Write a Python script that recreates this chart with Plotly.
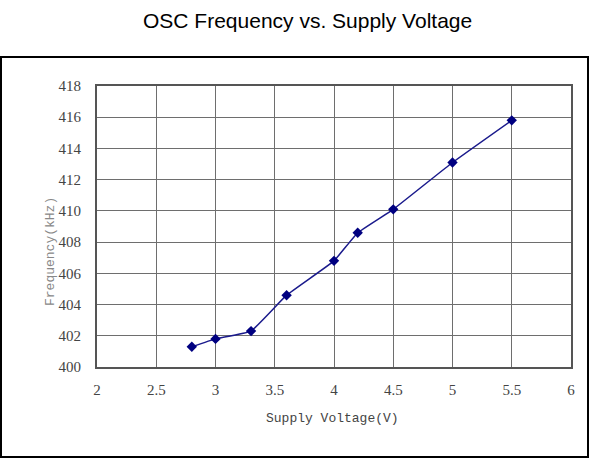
import plotly.graph_objects as go

voltage = [2.8, 3.0, 3.3, 3.6, 4.0, 4.2, 4.5, 5.0, 5.5]
frequency = [401.3, 401.8, 402.3, 404.6, 406.8, 408.6, 410.1, 413.1, 415.8]
x_ticks = [2, 2.5, 3, 3.5, 4, 4.5, 5, 5.5, 6]
x_tick_text = ["2", "2.5", "3", "3.5", "4", "4.5", "5", "5.5", "6"]
y_ticks = [400, 402, 404, 406, 408, 410, 412, 414, 416, 418]

W, H = 589, 460
L, R, T, B = 97, 18, 86, 93
pw, ph = W - L - R, H - T - B

def px(xpix):
    return (xpix - L) / pw

def py(ypix):
    return (H - B - ypix) / ph

fig = go.Figure()
fig.add_trace(go.Scatter(
    x=voltage, y=frequency, mode="lines+markers",
    line=dict(color="#1a1a8c", width=1.5, shape="spline", smoothing=0.3),
    marker=dict(symbol="diamond", size=8, color="#000080"),
    showlegend=False, hoverinfo="x+y",
))

tick_font = dict(family="Liberation Serif, DejaVu Serif, serif", size=15, color="#444444")

fig.update_layout(
    width=W, height=H,
    margin=dict(l=L, r=R, t=T, b=B),
    paper_bgcolor="white", plot_bgcolor="white",
    xaxis=dict(
        range=[2, 6], tickvals=x_ticks, ticktext=x_tick_text,
        showgrid=True, gridcolor="#6e6e6e", gridwidth=1.2,
        showline=True, linecolor="#555555", linewidth=2, mirror=True,
        ticks="", zeroline=False, tickfont=tick_font, ticklabelstandoff=8,
    ),
    yaxis=dict(
        range=[400, 418], tickvals=y_ticks,
        showgrid=True, gridcolor="#6e6e6e", gridwidth=1.2,
        showline=True, linecolor="#555555", linewidth=2, mirror=True,
        ticks="", zeroline=False, tickfont=tick_font, ticklabelstandoff=11,
    ),
    shapes=[dict(
        type="rect", xref="paper", yref="paper",
        x0=px(1), x1=px(588), y0=py(457), y1=py(57),
        line=dict(color="black", width=2), fillcolor="rgba(0,0,0,0)", layer="below",
    )],
    annotations=[
        dict(text="OSC Frequency vs. Supply Voltage", xref="paper", yref="paper",
             x=px(307), y=py(21), xanchor="center", yanchor="middle", showarrow=False,
             font=dict(family="Liberation Sans, Arial, sans-serif", size=21, color="black")),
        dict(text="Supply Voltage(V)", xref="paper", yref="paper",
             x=px(332), y=py(418), xanchor="center", yanchor="middle", showarrow=False,
             font=dict(family="Liberation Mono, DejaVu Sans Mono, monospace", size=13, color="#444444")),
        dict(text="Frequency(kHz)", xref="paper", yref="paper", textangle=-90,
             x=px(50), y=py(252), xanchor="center", yanchor="middle", showarrow=False,
             font=dict(family="Liberation Mono, DejaVu Sans Mono, monospace", size=13, color="#888888")),
    ],
)

fig.write_html("out.html", config={"displayModeBar": False},
               post_script="document.body.style.margin='0';document.body.style.overflow='hidden';")
